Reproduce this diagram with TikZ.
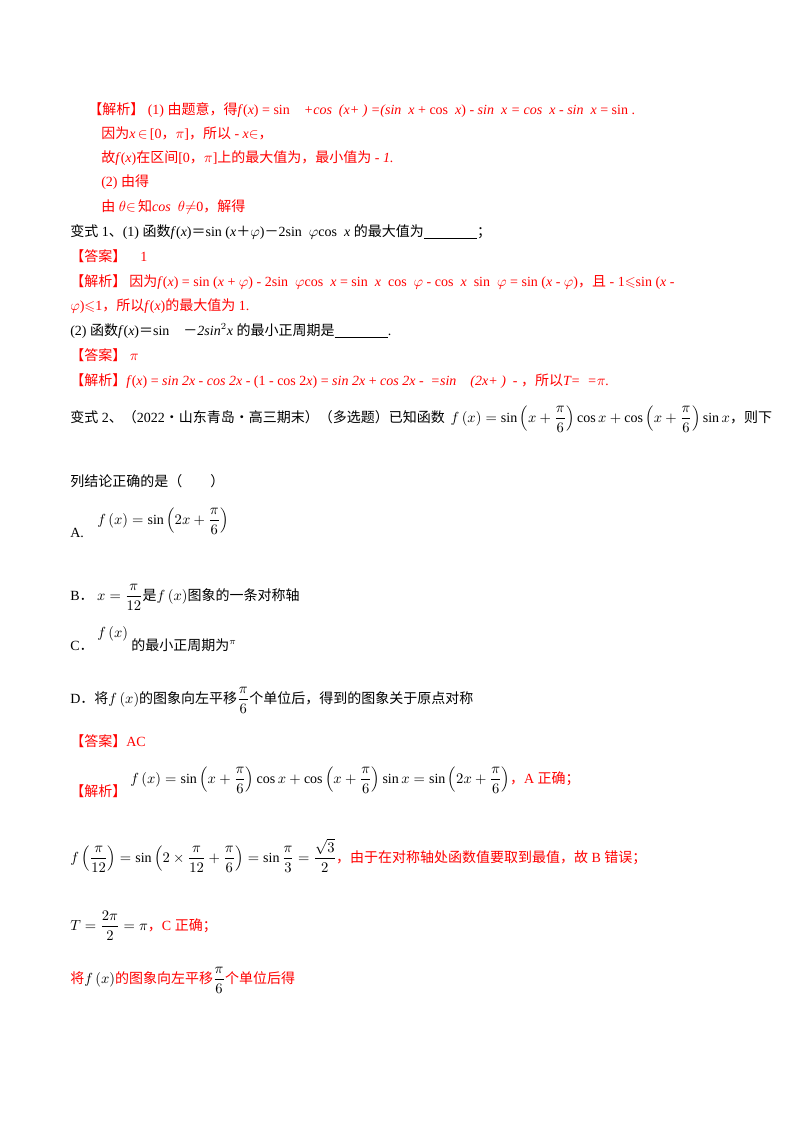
\documentclass[tikz,border=0pt]{standalone}
\usepackage{amsmath,amssymb}
\usepackage{fontspec}
\setmainfont{Liberation Serif}
\newfontfamily\zhf{Noto Sans CJK SC}
\newcommand{\zh}[1]{{\zhf #1}}
\newcommand{\blank}{\underline{\hspace{40pt}}}
\definecolor{ansred}{RGB}{255,0,0}
\begin{document}
\begin{tikzpicture}[x=0.75pt,y=-0.75pt,
  txt/.style={anchor=base west,inner sep=0pt,font=\fontsize{10.5}{12}\selectfont},
  red/.style={txt,text=ansred}]
\fill[white] (0,0) rectangle (800,1132);
\useasboundingbox (0,0) rectangle (800,1132);
% first block
\node[red] (l1) at (88,114) {\zh{【解析】} (1) \zh{由题意，得}\textit{f}(\textit{x}) = sin\quad \textit{+cos\ \ (x+\ )\ =(sin\ \ x} + cos\ \ \textit{x}) - \textit{sin\ \ x = cos\ \ x - sin\ \ x} = sin\ .};
\node[red] (l2) at (101,138) {\zh{因为}\textit{x}\,$\in$\,[0\zh{，}$\pi$]\zh{，所以} - \textit{x}$\in$\zh{，}};
\node[red] (l3) at (101,162) {\zh{故}\textit{f}(\textit{x})\zh{在区间}[0\zh{，}$\pi$]\zh{上的最大值为，}\textit{\zh{最小值为} - 1.}};
\node[red] (l4) at (101,186) {(2) \zh{由}\textit{\zh{得}}};
\node[red] (l5) at (101,211) {\zh{由} \textit{$\theta$}$\in$\,\textit{\zh{知}cos\ \ $\theta$}$\neq$0\zh{，解得}};
% bianshi 1
\node[txt] (b1) at (70,236) {\zh{变式} 1\zh{、}(1) \zh{函数}\textit{f}(\textit{x})\zh{＝}sin (\textit{x}\zh{＋}\textit{$\varphi$})\zh{－}2sin\ \ \textit{$\varphi$}cos\ \ \textit{x} \zh{的最大值为}\blank\zh{；}};
\node[red] (a1) at (70,261) {\zh{【答案】}\quad 1};
\node[red] (j1) at (70,286) {\zh{【解析】\ 因为}\textit{f}(\textit{x}) = sin (\textit{x} + \textit{$\varphi$}) - 2sin\ \ \textit{$\varphi$}cos\ \ \textit{x} = sin\ \ \textit{x}\ \ cos\ \ \textit{$\varphi$} - cos\ \ \textit{x}\ \ sin\ \ \textit{$\varphi$} = sin (\textit{x} - \textit{$\varphi$})\zh{，且} - 1$\leqslant$sin (\textit{x} -};
\node[red] (j1b) at (70,310) {\textit{$\varphi$})$\leqslant$1\zh{，所以}\textit{f}(\textit{x})\zh{的最大值为} 1.};
\node[txt] (b12) at (70,335) {(2) \zh{函数}\textit{f}(\textit{x})\zh{＝}sin\quad \zh{－}\textit{2sin}$^2$\textit{x} \zh{的最小正周期是}\blank.};
\node[red] (a2) at (70,360) {\zh{【答案】} $\pi$};
\node[red] (j2) at (70,385) {\zh{【解析】}\textit{f}(\textit{x}) = \textit{sin 2x - cos 2x} - (1 - cos 2\textit{x}) = \textit{sin 2x} + \textit{cos 2x - \ =sin\quad (2x+ )\ \ - \zh{，所以}T= \ =$\pi$.}};
% bianshi 2
\node[txt] (b2) at (70,422) {\zh{变式} 2\zh{、（}2022\zh{·山东青岛·高三期末）（多选题）已知函数}};
\node[txt] (b2f) at ([xshift=4pt]b2.base east) {$f\left(x\right)=\sin\left(x+\dfrac{\pi}{6}\right)\cos x+\cos\left(x+\dfrac{\pi}{6}\right)\sin x$\zh{，则下}};
\node[txt] (b2b) at (70,486) {\zh{列结论正确的是（\qquad ）}};
\node[txt] (oa) at (70,537) {A.};
\node[txt] (oaf) at (97,524) {$f\left(x\right)=\sin\left(2x+\dfrac{\pi}{6}\right)$};
\node[txt] (ob) at (70,600) {B\zh{．} $x=\dfrac{\pi}{12}$\zh{是}$f\left(x\right)$\zh{图象的一条对称轴}};
\node[txt] (oc) at (70,650) {C\zh{．}};
\node[txt] (ocf) at (97,637) {$f\left(x\right)$};
\node[txt] (oc2) at (131,650) {\zh{的最小正周期为}$^{\pi}$};
\node[txt] (od) at (70,703) {D\zh{．将}$f\left(x\right)$\zh{的图象向左平移}$\dfrac{\pi}{6}$\zh{个单位后，得到的图象关于原点对称}};
\node[red] (a3) at (70,746) {\zh{【答案】}AC};
\node[red] (j3) at (70,796) {\zh{【解析】}};
\node[txt] (j3f) at (130,783) {$f\left(x\right)=\sin\left(x+\dfrac{\pi}{6}\right)\cos x+\cos\left(x+\dfrac{\pi}{6}\right)\sin x=\sin\left(2x+\dfrac{\pi}{6}\right)$\textcolor{ansred}{\zh{，}A \zh{正确；}}};
\node[txt] (j4) at (70,862) {$f\left(\dfrac{\pi}{12}\right)=\sin\left(2\times\dfrac{\pi}{12}+\dfrac{\pi}{6}\right)=\sin\dfrac{\pi}{3}=\dfrac{\sqrt{3}}{2}$\textcolor{ansred}{\zh{，由于在对称轴处函数值要取到最值，故} B \zh{错误；}}};
\node[txt] (j5) at (70,930) {$T=\dfrac{2\pi}{2}=\pi$\textcolor{ansred}{\zh{，}C \zh{正确；}}};
\node[red] (j6) at (70,983) {\zh{将}\textcolor{black}{$f\left(x\right)$}\zh{的图象向左平移}\textcolor{black}{$\dfrac{\pi}{6}$}\zh{个单位后得}};
\end{tikzpicture}
\end{document}
